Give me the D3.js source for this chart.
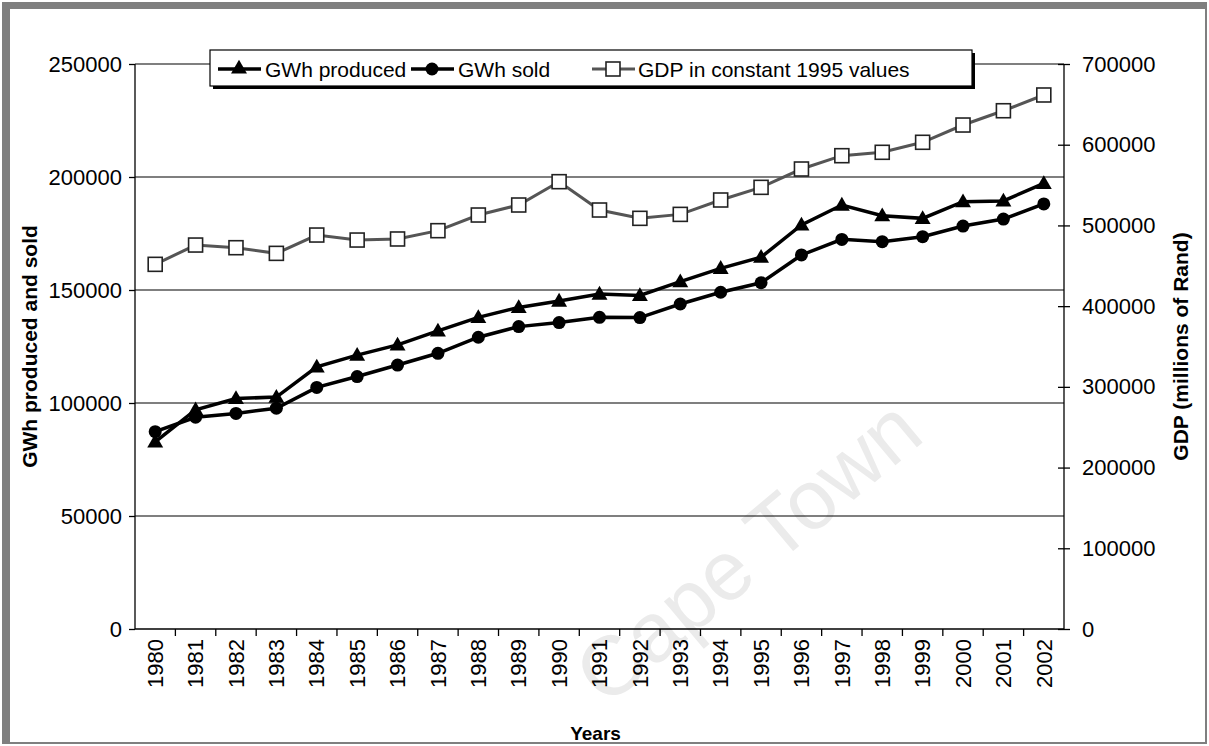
<!DOCTYPE html>
<html><head><meta charset="utf-8">
<script src="https://cdn.jsdelivr.net/npm/d3@7"></script>
<style>
body{margin:0;background:#fff;}
svg{display:block;font-family:"Liberation Sans",Arial,sans-serif;}
</style></head><body>
<svg id="chart" width="1209" height="746"></svg>
<script>
const years = ["1980","1981","1982","1983","1984","1985","1986","1987","1988","1989","1990","1991","1992","1993","1994","1995","1996","1997","1998","1999","2000","2001","2002"];
const gwhProduced = [82800,97000,102000,102600,116000,121200,125700,131900,137900,142300,145100,148200,147600,153700,159600,164500,178800,187600,182900,181700,189100,189400,197200];
const gwhSold = [87300,93700,95400,97700,106900,111700,116800,122000,129100,133800,135600,137900,137800,143800,149000,153200,165500,172400,171400,173600,178300,181400,188100];
const gdp = [451800,475700,472400,465400,488100,481900,483200,493500,512900,525300,554200,519100,508800,513700,531500,547200,569900,586400,590600,603000,624400,642100,661600];
const leftTicks = [0,50000,100000,150000,200000,250000];
const rightTicks = [0,100000,200000,300000,400000,500000,600000,700000];
const legendLabels = ["GWh produced","GWh sold","GDP in constant 1995 values"];

const svg = d3.select("#chart");
const L = 135, R = 1064, T = 64, B = 629;

// frame
svg.append("rect").attr("x",3).attr("y",3).attr("width",1203).attr("height",740)
  .attr("fill","none").attr("stroke","#7f7f7f").attr("stroke-width",2);
svg.append("rect").attr("x",3).attr("y",3).attr("width",7).attr("height",740).attr("fill","#7f7f7f");
svg.append("rect").attr("x",3).attr("y",3).attr("width",1203).attr("height",6).attr("fill","#7f7f7f");

// watermark
svg.append("text").attr("transform","translate(606,708) rotate(-40)")
  .attr("font-size",84).attr("fill","#ebebeb").text("Cape Town");

const x = d3.scaleBand().domain(years).range([L,R]).paddingInner(0).paddingOuter(0);
const yL = d3.scaleLinear().domain([0,250000]).range([B,T]);
const yR = d3.scaleLinear().domain([0,700000]).range([B,T]);
const cx = d => x(d) + x.bandwidth()/2;

// gridlines
svg.append("g").selectAll("line").data(leftTicks.filter(d=>d>0)).join("line")
  .attr("x1",L).attr("x2",R).attr("y1",d=>yL(d)).attr("y2",d=>yL(d))
  .attr("stroke","#000").attr("stroke-width",1.2);

// left axis
const gl = svg.append("g").attr("transform",`translate(${L},0)`)
  .call(d3.axisLeft(yL).tickValues(leftTicks).tickSize(6).tickPadding(7).tickFormat(d3.format("d")));
gl.selectAll("text").attr("font-size",22).attr("fill","#000");
gl.selectAll("line,path").attr("stroke","#000").attr("stroke-width",1.3);
gl.select(".domain").attr("d",`M0,${T}V${B}`);

// right axis
const gr = svg.append("g").attr("transform",`translate(${R},0)`)
  .call(d3.axisRight(yR).tickValues(rightTicks).tickSize(6).tickPadding(12).tickFormat(d3.format("d")));
gr.selectAll("text").attr("font-size",22).attr("fill","#000");
gr.selectAll("line,path").attr("stroke","#000").attr("stroke-width",1.3);
gr.selectAll(".tick line").attr("x1",-6);
gr.select(".domain").attr("d",`M0,${T}V${B}`);

// bottom axis
const gb = svg.append("g").attr("transform",`translate(0,${B})`)
  .call(d3.axisBottom(x).tickSize(0).tickPadding(0));
gb.select(".domain").attr("d",`M${L},0H${R}`).attr("stroke","#000").attr("stroke-width",1.3);
gb.selectAll(".tick text").attr("font-size",22).attr("fill","#000")
  .attr("text-anchor","end").attr("dy","0.35em")
  .attr("transform","translate(0,10) rotate(-90)");
svg.append("g").selectAll("line").data(years.slice(1)).join("line")
  .attr("x1",d=>x(d)).attr("x2",d=>x(d)).attr("y1",B).attr("y2",B+7)
  .attr("stroke","#000").attr("stroke-width",1.3);

// axis titles
svg.append("text").attr("transform",`translate(37,${(T+B)/2}) rotate(-90)`)
  .attr("text-anchor","middle").attr("font-size",21).attr("font-weight","bold").text("GWh produced and sold");
svg.append("text").attr("transform",`translate(1188,${(T+B)/2}) rotate(-90)`)
  .attr("text-anchor","middle").attr("font-size",21).attr("font-weight","bold").text("GDP (millions of Rand)");
svg.append("text").attr("x",(L+R)/2 - 4).attr("y",740).attr("text-anchor","middle")
  .attr("font-size",19).attr("font-weight","bold").text("Years");

// series
const triPath = d3.symbol(d3.symbolTriangle, 110)();
const line = (ys, vals) => d3.line().x((d,i)=>cx(years[i])).y(d=>ys(d))(vals);

svg.append("path").attr("d",line(yR,gdp)).attr("fill","none").attr("stroke","#555").attr("stroke-width",3);
svg.append("g").selectAll("rect").data(gdp).join("rect")
  .attr("x",(d,i)=>cx(years[i])-7).attr("y",d=>yR(d)-7).attr("width",14).attr("height",14)
  .attr("fill","#fff").attr("stroke","#222").attr("stroke-width",1.6);

svg.append("path").attr("d",line(yL,gwhSold)).attr("fill","none").attr("stroke","#000").attr("stroke-width",3.5);
svg.append("g").selectAll("circle").data(gwhSold).join("circle")
  .attr("cx",(d,i)=>cx(years[i])).attr("cy",d=>yL(d)).attr("r",6.5).attr("fill","#000");

svg.append("path").attr("d",line(yL,gwhProduced)).attr("fill","none").attr("stroke","#000").attr("stroke-width",3.5);
svg.append("g").selectAll("path").data(gwhProduced).join("path")
  .attr("d",triPath).attr("transform",(d,i)=>`translate(${cx(years[i])},${yL(d)+1})`).attr("fill","#000");

// legend
const lg = svg.append("g");
lg.append("rect").attr("x",213).attr("y",53).attr("width",762).attr("height",36).attr("fill","#000");
lg.append("rect").attr("x",210).attr("y",50).attr("width",762).attr("height",36).attr("fill","#fff").attr("stroke","#000").attr("stroke-width",1.2);
const items = [
  {x0:218, tx:265, label:legendLabels[0], kind:"tri"},
  {x0:411, tx:458, label:legendLabels[1], kind:"circ"},
  {x0:592, tx:638, label:legendLabels[2], kind:"sq"}
];
const ly = 69;
items.forEach(it=>{
  const mx = it.x0 + 21;
  lg.append("line").attr("x1",it.x0).attr("x2",it.x0+43).attr("y1",ly).attr("y2",ly)
    .attr("stroke", it.kind==="sq" ? "#555" : "#000").attr("stroke-width", it.kind==="sq"?3:3.5);
  if(it.kind==="tri") lg.append("path").attr("d",triPath).attr("transform",`translate(${mx},${ly})`).attr("fill","#000");
  if(it.kind==="circ") lg.append("circle").attr("cx",mx).attr("cy",ly).attr("r",6.5).attr("fill","#000");
  if(it.kind==="sq") lg.append("rect").attr("x",mx-7).attr("y",ly-7).attr("width",14).attr("height",14)
    .attr("fill","#fff").attr("stroke","#222").attr("stroke-width",1.6);
  lg.append("text").attr("x",it.tx).attr("y",ly).attr("dy","0.36em").attr("font-size",21).text(it.label);
});
</script>
</body></html>
